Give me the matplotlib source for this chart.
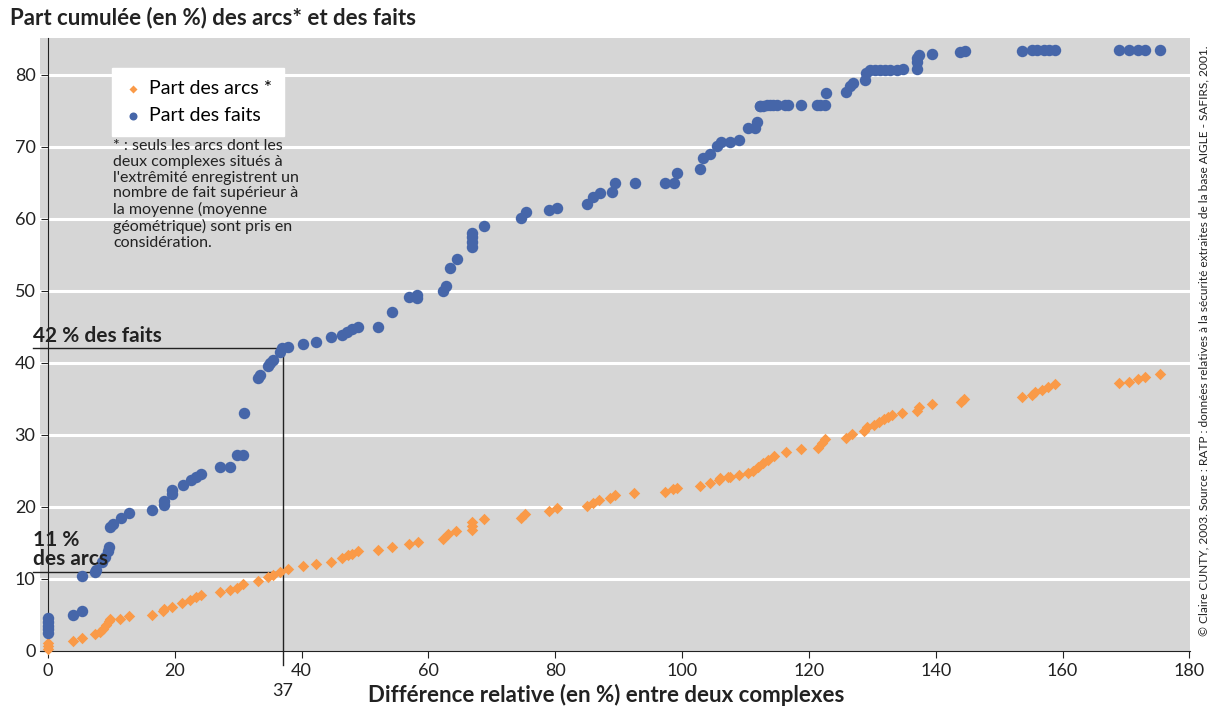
import matplotlib
matplotlib.use('Agg')
import matplotlib.pyplot as plt

# Part des faits (blue circles)
faits_x = [0, 0, 0, 0, 0, 4.0, 5.3, 5.4, 7.4, 7.6, 8.5, 9.0, 9.4, 9.6, 9.7, 10.2,
           11.5, 12.8, 16.4, 18.3, 18.3, 19.5, 19.6, 21.3, 22.5, 23.4, 24.2,
           27.1, 28.7, 29.8, 30.8, 30.9, 33.1, 33.5, 34.7, 35.0, 35.5, 36.6,
           36.9, 37.8, 40.2, 42.3, 44.6, 46.3, 47.1, 47.9, 48.9, 52.1, 54.2,
           57.0, 58.2, 58.2, 62.3, 62.7, 63.4, 64.5, 66.9, 66.9, 66.9, 66.9,
           68.8, 74.6, 75.4, 79.0, 80.3, 85.0, 86.0, 87.1, 88.9, 89.4, 92.6,
           97.3, 98.7, 99.2, 102.8, 103.3, 104.4, 105.5, 106.1, 107.6, 109.0,
           110.4, 111.5, 111.8, 112.3, 112.3, 112.8, 113.4, 113.9, 114.3, 115.0,
           116.2, 116.7, 118.8, 121.3, 121.8, 122.6, 122.7, 125.9, 126.5,
           127.0, 128.9, 129.0, 129.7, 130.4, 131.2, 132.0, 132.8, 133.9,
           134.9, 137.1, 137.1, 137.1, 137.4, 139.4, 143.8, 144.6, 153.6,
           155.2, 156.0, 157.0, 157.8, 158.8, 168.9, 170.5, 171.9, 173.0, 175.4]
faits_y = [2.5, 3.0, 3.5, 4.0, 4.6, 5.0, 5.6, 10.4, 11.0, 11.3, 12.4, 13.1, 13.9,
           14.5, 17.2, 17.6, 18.5, 19.2, 19.6, 20.2, 20.8, 21.8, 22.3, 23.1,
           23.8, 24.2, 24.6, 25.6, 25.6, 27.2, 27.2, 33.1, 37.9, 38.3, 39.5,
           40.0, 40.4, 41.5, 42.0, 42.2, 42.6, 42.9, 43.6, 43.9, 44.3, 44.7,
           45.0, 45.0, 47.1, 49.1, 49.4, 49.0, 50.0, 50.7, 53.2, 54.4, 56.1,
           56.8, 57.5, 58.0, 59.0, 60.1, 60.9, 61.2, 61.5, 62.1, 63.0, 63.6,
           63.7, 64.9, 64.9, 64.9, 64.9, 66.4, 66.9, 68.5, 69.0, 70.1, 70.7,
           70.6, 70.9, 72.6, 72.6, 73.4, 75.6, 75.7, 75.7, 75.8, 75.8, 75.8,
           75.8, 75.8, 75.8, 75.8, 75.8, 75.8, 75.8, 77.5, 77.6, 78.4, 78.9,
           79.2, 80.2, 80.7, 80.7, 80.7, 80.7, 80.7, 80.7, 80.8, 80.8, 81.7,
           82.3, 82.8, 82.9, 83.2, 83.3, 83.3, 83.4, 83.4, 83.4, 83.4, 83.4,
           83.5, 83.5, 83.5, 83.5, 83.5]

# Part des arcs (orange diamonds)
arcs_x = [0, 0, 0, 4.0, 5.3, 7.4, 8.2, 8.7, 9.2, 9.6, 9.8, 11.4, 12.7, 16.4,
          18.2, 18.3, 19.6, 21.2, 22.4, 23.4, 24.2, 27.1, 28.7, 29.8, 30.8,
          33.1, 34.7, 35.5, 36.6, 37.9, 40.2, 42.3, 44.6, 46.3, 47.3, 48.0,
          48.9, 52.0, 54.2, 57.0, 58.3, 62.3, 63.1, 64.3, 66.9, 66.9, 66.9,
          68.8, 74.6, 75.2, 79.0, 80.3, 85.0, 86.0, 86.9, 88.6, 89.4, 92.4,
          97.3, 98.6, 99.2, 102.9, 104.4, 105.8, 106.0, 107.2, 107.6, 109.0,
          110.4, 111.2, 112.0, 112.8, 113.6, 114.5, 116.4, 118.8, 121.5, 122.0,
          122.6, 125.8, 126.8, 128.7, 129.2, 130.2, 131.0, 131.8, 132.4, 133.1,
          134.7, 137.0, 137.3, 139.4, 144.0, 144.5, 153.6, 155.2, 155.7, 156.8,
          157.7, 158.8, 168.9, 170.5, 171.9, 173.0, 175.4]
arcs_y = [0.3, 0.7, 1.1, 1.4, 1.8, 2.4, 2.7, 3.1, 3.6, 4.1, 4.4, 4.5, 4.8, 5.0,
          5.5, 5.8, 6.1, 6.6, 7.1, 7.5, 7.8, 8.2, 8.5, 8.8, 9.3, 9.7, 10.3,
          10.5, 11.0, 11.4, 11.8, 12.1, 12.4, 12.9, 13.3, 13.5, 13.9, 14.0,
          14.5, 14.8, 15.2, 15.6, 16.2, 16.6, 16.8, 17.4, 17.9, 18.3, 18.5,
          19.0, 19.5, 19.8, 20.1, 20.5, 20.9, 21.2, 21.6, 21.9, 22.1, 22.5,
          22.6, 22.9, 23.3, 23.8, 24.0, 24.1, 24.2, 24.4, 24.7, 25.0, 25.6,
          26.1, 26.5, 27.1, 27.6, 28.0, 28.2, 28.9, 29.4, 29.6, 30.1, 30.6,
          31.1, 31.4, 31.8, 32.2, 32.5, 32.8, 33.1, 33.3, 33.9, 34.3, 34.6,
          35.0, 35.3, 35.6, 35.9, 36.3, 36.6, 37.0, 37.2, 37.4, 37.7, 38.1,
          38.4]

x_ticks = [0, 20, 40, 60, 80, 100, 120, 140, 160, 180]
y_ticks = [0, 10, 20, 30, 40, 50, 60, 70, 80]
seuil_x = 37
seuil_faits = 42
seuil_arcs = 11

plt.rcParams['font.family'] = ['Lato', 'DejaVu Sans']

blue = '#4666a9'
orange = '#fa9a48'
ink = '#222222'

fig = plt.figure(figsize=(12.16, 7.10), dpi=100)
ax = fig.add_axes([0.0329, 0.0831, 0.9457, 0.8634])
ax.set_facecolor('#d6d6d6')
ax.set_xlim(-1.26, 180.1)
ax.set_ylim(0, 85.1)

for v in y_ticks[1:]:
    ax.axhline(v, color='white', lw=2.2, zorder=1)

ax.scatter(arcs_x, arcs_y, marker='D', s=34, color=orange, linewidths=0,
           zorder=3, clip_on=False, label='Part des arcs *')
ax.scatter(faits_x, faits_y, marker='o', s=68, color=blue, linewidths=0,
           zorder=4, label='Part des faits')

for s in ['top', 'right']:
    ax.spines[s].set_visible(False)
ax.spines['left'].set_position(('data', 0))
ax.spines['left'].set_color(ink)
ax.spines['bottom'].set_color(ink)

ax.set_xticks(x_ticks)
ax.set_yticks(y_ticks)
ax.tick_params(axis='both', labelsize=13, colors=ink, length=5)
ax.tick_params(axis='y', pad=4)

# repères 37 / 42 % / 11 %
ax.plot([-2.4, seuil_x], [seuil_faits, seuil_faits], color=ink, lw=1,
        clip_on=False, zorder=2)
ax.plot([-2.4, seuil_x], [seuil_arcs, seuil_arcs], color=ink, lw=1,
        clip_on=False, zorder=2)
ax.plot([seuil_x, seuil_x], [seuil_faits, -2.0], color=ink, lw=1,
        clip_on=False, zorder=2)
ax.text(seuil_x, -5.5, '37', ha='center', va='center', fontsize=13,
        color=ink)
ax.text(-2.3, seuil_faits + 0.4, '42 % des faits', ha='left', va='bottom',
        fontsize=15, fontweight='bold', color=ink, zorder=6)
ax.text(-2.3, seuil_arcs + 0.4, '11 %\ndes arcs', ha='left', va='bottom',
        fontsize=15, fontweight='bold', color=ink, linespacing=0.95, zorder=6)

leg = ax.legend(loc='upper left', bbox_to_anchor=(0.0625, 0.951), fontsize=14,
                frameon=True, fancybox=False, framealpha=1, edgecolor='white',
                handletextpad=0.3, handlelength=1.0, borderpad=0.6,
                labelspacing=0.55, markerscale=0.7, borderaxespad=0)
leg.set_zorder(5)

note = ("* : seuls les arcs dont les\ndeux complexes situés à\n"
        "l'extrêmité enregistrent un\nnombre de fait supérieur à\n"
        "la moyenne (moyenne\ngéométrique) sont pris en\nconsidération.")
fig.text(113 / 1216, 1 - 139 / 710, note, ha='left', va='top', fontsize=11.5,
         color=ink, linespacing=1.16)

fig.text(10 / 1216, 1 - 18 / 710, 'Part cumulée (en %) des arcs* et des faits',
         ha='left', va='center', fontsize=16, fontweight='bold', color=ink)
fig.text(606 / 1216, 1 - 695 / 710,
         'Différence relative (en %) entre deux complexes', ha='center',
         va='center', fontsize=16, fontweight='bold', color=ink)
fig.text(1204 / 1216, 1 - 341 / 710,
         '© Claire CUNTY, 2003. Source : RATP : données relatives à la '
         'sécurité extraites de la base AIGLE - SAFIRS, 2001.',
         rotation=90, ha='center', va='center', fontsize=8.6, color=ink)

fig.savefig('out.png', dpi=100)
